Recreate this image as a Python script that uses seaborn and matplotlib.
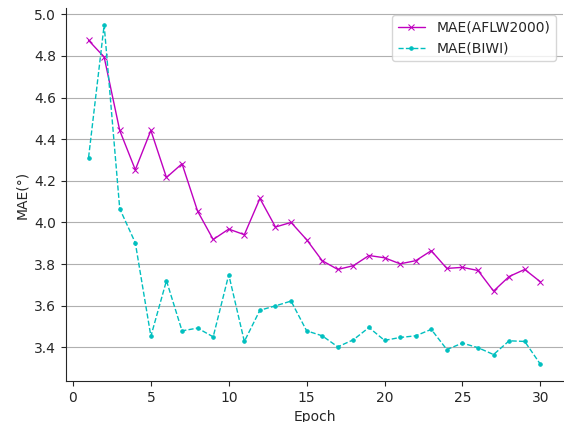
import numpy as np
import pandas as pd
import matplotlib
matplotlib.use("Agg")
import matplotlib.pyplot as plt
import seaborn as sns

# Data
epochs = list(range(1, 31))
mae_aflw = [4.875, 4.795, 4.442, 4.253, 4.442, 4.216, 4.282, 4.054, 3.918, 3.968,
            3.941, 4.115, 3.978, 4.000, 3.917, 3.816, 3.774, 3.792, 3.841, 3.830,
            3.801, 3.816, 3.864, 3.779, 3.784, 3.769, 3.670, 3.740, 3.774, 3.715]
mae_biwi = [4.312, 4.949, 4.066, 3.902, 3.453, 3.720, 3.479, 3.492, 3.450, 3.749,
            3.428, 3.578, 3.599, 3.622, 3.479, 3.455, 3.402, 3.436, 3.495, 3.433,
            3.447, 3.455, 3.486, 3.389, 3.420, 3.398, 3.365, 3.431, 3.428, 3.319]

sns.set_style("ticks")
plt.rcParams['font.family'] = ['DejaVu Sans']

fig, ax = plt.subplots(figsize=(5.64, 4.22), dpi=100)

sns.lineplot(x=epochs, y=mae_aflw, ax=ax, color='m', marker='x', markersize=5,
             markeredgecolor='m', linewidth=1, label='MAE(AFLW2000)')
sns.lineplot(x=epochs, y=mae_biwi, ax=ax, color='c', marker='.', markersize=5,
             markeredgecolor='c', linewidth=1, linestyle='--', label='MAE(BIWI)')

ax.set_xlabel('Epoch')
ax.set_ylabel('MAE(°)')
ax.set_xticks([0, 5, 10, 15, 20, 25, 30])
ax.set_yticks([3.4, 3.6, 3.8, 4.0, 4.2, 4.4, 4.6, 4.8, 5.0])
ax.yaxis.grid(True, color='#b0b0b0', linewidth=0.8)
ax.set_axisbelow(True)
sns.despine(ax=ax)

ax.legend(loc='upper right', frameon=True, fontsize=10)

fig.subplots_adjust(left=0.117, right=0.998, bottom=0.097, top=0.981)
fig.savefig("out.png", dpi=100)
